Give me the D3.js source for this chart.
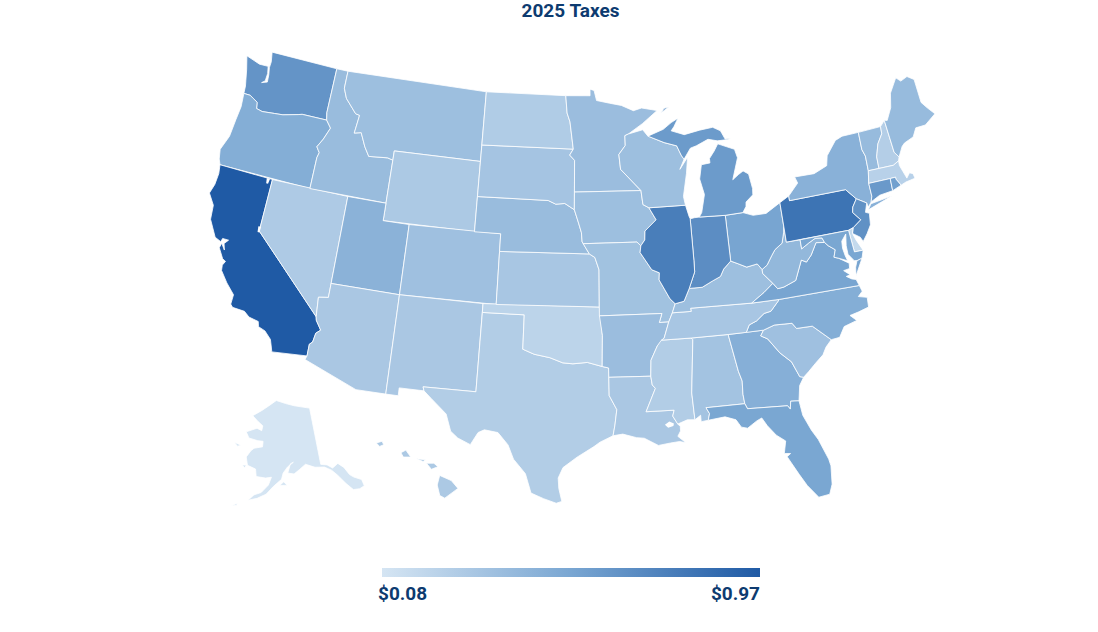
<!DOCTYPE html>
<html>
<head>
<meta charset="utf-8">
<script src="https://cdn.jsdelivr.net/npm/d3@7"></script>
<style>
  body { margin: 0; background: #fff; }
  text { font-family: Roboto, sans-serif; font-weight: 700; fill: #0d3b70; }
</style>
</head>
<body>
<script>
const chartTitle = "2025 Taxes";
const legendLabels = ["$0.08", "$0.97"];
const valueRange = [0.08, 0.525, 0.97];
const colorRange = ["#d5e5f3", "#79a6d2", "#1f5aa5"];

const stateIds = ["WA","OR","CA","NV","ID","MT","WY","UT","CO","AZ","NM","TX","OK","KS","NE","SD","ND","MN","IA","MO","AR","LA","MS","AL","GA","FL","SC","NC","TN","KY","VA","WV","OH","IN","IL","WI","MI","PA","NY","VT","NH","ME","MA","CT","RI","NJ","DE","MD","AK","HI"];
const stateValues = [0.63,0.47,0.97,0.27,0.37,0.35,0.28,0.44,0.34,0.29,0.29,0.25,0.20,0.30,0.37,0.31,0.26,0.36,0.35,0.33,0.36,0.29,0.25,0.32,0.46,0.52,0.34,0.47,0.30,0.35,0.53,0.40,0.53,0.67,0.76,0.35,0.59,0.82,0.45,0.38,0.24,0.38,0.22,0.60,0.56,0.65,0.16,0.52,0.08,0.28];

// simplified outlines, lon/lat, one list of rings per state
const stateOutlines = {
  WA: [[[-124.73,48.38],[-123.5,48.13],[-122.75,48.15],[-122.62,47.75],[-122.65,47.3],[-122.9,47.15],[-122.45,47.27],[-122.5,47.7],[-122.62,48.1],[-122.6,48.45],[-122.76,49],[-117.03,49],[-117.04,46.42],[-116.92,46],[-118.98,46],[-119.3,45.93],[-120.5,45.7],[-121.2,45.65],[-122.2,45.57],[-122.7,45.65],[-122.8,46],[-123.2,46.15],[-123.5,46.27],[-124.05,46.27],[-124.1,46.7],[-124.2,47],[-124.4,47.6]]],
  OR: [[[-124.05,46.27],[-123.5,46.27],[-123.2,46.15],[-122.8,46],[-122.7,45.65],[-122.2,45.57],[-121.2,45.65],[-120.5,45.7],[-119.3,45.93],[-118.98,46],[-116.92,46],[-116.47,45.6],[-116.85,44.9],[-117.22,44.4],[-117.03,44.2],[-116.93,44.1],[-117.03,43.8],[-117.03,42],[-124.21,42],[-124.4,42.3],[-124.55,42.84],[-124.15,43.7],[-124.05,44.7],[-123.95,45.5]]],
  CA: [[[-124.21,42],[-120,42],[-120,39],[-114.63,35],[-114.57,34.8],[-114.14,34.3],[-114.43,34.08],[-114.53,33.55],[-114.72,33.4],[-114.72,32.72],[-117.12,32.53],[-117.25,32.85],[-117.4,33.2],[-117.9,33.6],[-118.4,33.75],[-118.5,34.03],[-119.2,34.15],[-119.6,34.4],[-120.47,34.45],[-120.65,34.6],[-120.63,35.15],[-121.3,35.7],[-121.9,36.3],[-121.95,36.6],[-121.8,36.85],[-122.05,36.95],[-122.5,37.5],[-122.42,37.78],[-122.1,37.45],[-122.25,37.8],[-122,38.05],[-122.45,38.05],[-122.52,37.85],[-123,38],[-123.7,38.9],[-123.8,39.7],[-124.35,40.3],[-124.15,40.85],[-124.1,41.5]]],
  NV: [[[-120,42],[-114.04,42],[-114.04,36.2],[-114.74,36.1],[-114.63,35],[-120,39]]],
  ID: [[[-117.03,49],[-116.05,49],[-116.05,48],[-115.7,47.45],[-114.7,46.7],[-114.35,46.65],[-114.5,45.6],[-113.95,45.7],[-113.45,44.95],[-113,44.45],[-111.5,44.55],[-111.05,44.47],[-111.05,42],[-117.03,42],[-117.03,43.8],[-116.93,44.1],[-117.03,44.2],[-117.22,44.4],[-116.85,44.9],[-116.47,45.6],[-116.92,46],[-117.04,46.42]]],
  MT: [[[-116.05,49],[-104.05,49],[-104.05,45],[-111.05,45],[-111.05,44.47],[-111.5,44.55],[-113,44.45],[-113.45,44.95],[-113.95,45.7],[-114.5,45.6],[-114.35,46.65],[-114.7,46.7],[-115.7,47.45],[-116.05,48]]],
  WY: [[[-111.05,45],[-104.05,45],[-104.05,41],[-111.05,41]]],
  UT: [[[-114.04,42],[-111.05,42],[-111.05,41],[-109.05,41],[-109.05,37],[-114.04,37]]],
  CO: [[[-109.05,41],[-102.05,41],[-102.05,37],[-109.05,37]]],
  AZ: [[[-114.04,37],[-109.05,37],[-109.05,31.33],[-111.07,31.33],[-114.81,32.5],[-114.72,32.72],[-114.72,33.4],[-114.53,33.55],[-114.43,34.08],[-114.14,34.3],[-114.57,34.8],[-114.63,35],[-114.74,36.1],[-114.04,36.2]]],
  NM: [[[-109.05,37],[-103,37],[-103.04,32],[-106.62,32],[-106.53,31.78],[-108.21,31.78],[-108.21,31.33],[-109.05,31.33]]],
  TX: [[[-106.62,32],[-103.04,32],[-103,36.5],[-100,36.5],[-100,34.56],[-99.2,34.3],[-98.1,34.13],[-97.2,33.85],[-96.5,33.8],[-95.5,33.88],[-94.48,33.64],[-94.04,33.55],[-94.04,33.02],[-94.04,31.99],[-93.55,31.18],[-93.7,30.3],[-93.84,29.7],[-94.7,29.35],[-95.1,29.1],[-96.2,28.5],[-97.1,27.9],[-97.4,27.3],[-97.35,26.7],[-97.15,25.96],[-97.5,25.85],[-98.3,26.1],[-99.1,26.4],[-99.5,27.5],[-100.3,28.3],[-100.7,29.1],[-101.4,29.77],[-102.3,29.88],[-102.7,29.7],[-103.15,28.98],[-104,29.3],[-104.5,29.65],[-104.9,30.6],[-106,31.4],[-106.53,31.78]]],
  OK: [[[-103,37],[-94.62,37],[-94.43,35.4],[-94.48,33.64],[-95.5,33.88],[-96.5,33.8],[-97.2,33.85],[-98.1,34.13],[-99.2,34.3],[-100,34.56],[-100,36.5],[-103,36.5]]],
  KS: [[[-102.05,40],[-95.31,40],[-94.9,39.8],[-94.6,39.1],[-94.62,37],[-102.05,37]]],
  NE: [[[-104.05,43],[-98.5,43],[-97.9,42.8],[-97.2,42.85],[-96.45,42.5],[-96.1,41.7],[-95.9,41.2],[-95.85,40.7],[-95.31,40],[-102.05,40],[-102.05,41],[-104.05,41]]],
  SD: [[[-104.05,45.94],[-96.56,45.94],[-96.85,45.6],[-96.45,45.3],[-96.45,43.5],[-96.45,42.5],[-97.2,42.85],[-97.9,42.8],[-98.5,43],[-104.05,43]]],
  ND: [[[-104.05,49],[-97.23,49],[-97.1,48],[-96.85,47.5],[-96.56,45.94],[-104.05,45.94]]],
  MN: [[[-97.23,49],[-95.15,49],[-95.15,49.38],[-94.8,49.3],[-94.6,48.72],[-93.5,48.55],[-92.5,48.4],[-91.5,48.07],[-90.8,48.2],[-89.5,48],[-90.8,47.3],[-92,46.75],[-92.3,46.66],[-92.3,46.1],[-92.85,45.6],[-92.75,44.75],[-91.2,43.5],[-96.45,43.5],[-96.45,45.3],[-96.85,45.6],[-96.56,45.94],[-96.85,47.5],[-97.1,48]]],
  IA: [[[-96.45,43.5],[-91.2,43.5],[-91.1,42.7],[-90.65,42.5],[-90.15,41.8],[-91.05,41.2],[-91.1,40.7],[-91.42,40.38],[-91.7,40.6],[-95.77,40.58],[-95.85,40.7],[-95.9,41.2],[-96.1,41.7],[-96.45,42.5]]],
  MO: [[[-95.77,40.58],[-91.7,40.6],[-91.42,40.38],[-91.5,40],[-90.7,39],[-90.15,38.8],[-90.2,38.4],[-89.5,37.3],[-89.15,37],[-89.4,36.5],[-89.7,36],[-90.37,36],[-90.15,36.5],[-94.62,36.5],[-94.62,37],[-94.6,39.1],[-94.9,39.8],[-95.31,40]]],
  AR: [[[-94.62,36.5],[-90.15,36.5],[-90.37,36],[-89.7,36],[-90.1,35.1],[-90.6,34.7],[-91.1,33.9],[-91.17,33],[-94.04,33.02],[-94.04,33.55],[-94.48,33.64],[-94.43,35.4]]],
  LA: [[[-94.04,33.02],[-91.17,33],[-91.1,32.5],[-90.9,32.3],[-91.6,31],[-89.73,31],[-89.85,30.67],[-89.55,30.2],[-89.4,30.05],[-89.4,29.8],[-89.6,29.5],[-89.1,29.1],[-89.5,29.2],[-90.1,29.15],[-90.9,29.05],[-91.8,29.5],[-92.3,29.55],[-93.2,29.78],[-93.84,29.7],[-93.7,30.3],[-93.55,31.18],[-94.04,31.99]]],
  MS: [[[-91.17,33],[-91.1,33.9],[-90.6,34.7],[-90.3,35],[-88.2,35],[-88.1,34.9],[-88.47,31.9],[-88.4,30.37],[-88.9,30.4],[-89.55,30.2],[-89.85,30.67],[-89.73,31],[-91.6,31],[-90.9,32.3],[-91.1,32.5]]],
  AL: [[[-88.2,35],[-85.6,35],[-85.18,32.87],[-85,32.3],[-85.05,31.55],[-85,31],[-87.6,31],[-87.4,30.65],[-87.52,30.28],[-88,30.23],[-88,30.6],[-88.4,30.37],[-88.47,31.9],[-88.1,34.9]]],
  GA: [[[-85.6,35],[-83.1,35],[-83.35,34.7],[-82.9,34.48],[-82.2,33.6],[-81.5,33],[-81.1,32.1],[-80.85,32.03],[-81.2,31.6],[-81.4,30.75],[-81.95,30.8],[-82.05,30.36],[-82.2,30.57],[-84.86,30.7],[-85,31],[-85.05,31.55],[-85,32.3],[-85.18,32.87]]],
  FL: [[[-87.6,31],[-85,31],[-84.86,30.7],[-82.2,30.57],[-82.05,30.36],[-81.95,30.8],[-81.4,30.75],[-81.3,29.9],[-80.9,29],[-80.55,28.4],[-80.1,27.2],[-80.03,26.8],[-80.15,25.75],[-80.4,25.2],[-81.1,25.13],[-81.7,25.9],[-82.1,26.6],[-82.7,27.7],[-82.45,27.85],[-82.85,27.9],[-82.65,28.6],[-83.2,29],[-83.7,29.6],[-84,30.08],[-84.35,29.95],[-85,29.6],[-85.4,29.7],[-85.7,30.15],[-86.4,30.38],[-87.52,30.28],[-87.4,30.65]]],
  SC: [[[-83.1,35],[-82.3,35.2],[-81.05,35.15],[-80.8,34.82],[-79.68,34.8],[-78.55,33.86],[-79,33.5],[-79.3,33.1],[-79.9,32.7],[-80.45,32.3],[-80.85,32.03],[-81.1,32.1],[-81.5,33],[-82.2,33.6],[-82.9,34.48],[-83.35,34.7]]],
  NC: [[[-84.32,35],[-83.1,35],[-82.3,35.2],[-81.05,35.15],[-80.8,34.82],[-79.68,34.8],[-78.55,33.86],[-77.95,33.9],[-77.5,34.45],[-76.55,34.65],[-76.95,35],[-76.3,35.1],[-75.55,35.25],[-75.5,35.8],[-76.1,35.95],[-75.75,36.2],[-75.87,36.55],[-81.68,36.59],[-82.4,36],[-82.9,35.93],[-83.5,35.57],[-84.05,35.4]]],
  TN: [[[-89.7,36],[-89.4,36.5],[-88.05,36.5],[-88.07,36.68],[-83.68,36.6],[-81.68,36.59],[-82.4,36],[-82.9,35.93],[-83.5,35.57],[-84.05,35.4],[-84.32,35],[-85.6,35],[-88.2,35],[-90.3,35],[-90.1,35.1]]],
  KY: [[[-89.4,36.5],[-89.15,37],[-88.5,37.1],[-88.05,37.8],[-87.1,37.8],[-86.3,38.1],[-85.7,38.3],[-85.4,38.7],[-84.82,39.1],[-84.3,38.9],[-83.7,38.65],[-82.9,38.75],[-82.6,38.4],[-82.6,38.17],[-81.97,37.54],[-82.7,37.1],[-83.68,36.6],[-88.07,36.68],[-88.05,36.5]]],
  VA: [[[-83.68,36.6],[-81.68,36.59],[-75.87,36.55],[-76,36.92],[-76.3,37],[-76.65,37.2],[-76.35,37.25],[-76.75,37.55],[-76.3,37.6],[-76.25,37.9],[-76.95,38.3],[-77.25,38.4],[-77.05,38.8],[-77.5,39.1],[-77.72,39.32],[-78.35,39.4],[-78.87,38.76],[-79.3,38.42],[-79.65,38.58],[-80.3,37.5],[-81.22,37.24],[-81.68,37.2],[-81.97,37.54],[-82.7,37.1]],[[-75.95,37.12],[-75.25,38.03],[-75.65,37.95],[-75.85,37.6]]],
  WV: [[[-82.6,38.17],[-82.6,38.4],[-82.2,38.6],[-81.75,39.1],[-81.45,39.4],[-80.85,39.7],[-80.6,40.3],[-80.52,40.64],[-80.52,39.72],[-79.48,39.72],[-79.48,39.2],[-78.9,39.45],[-78.35,39.65],[-77.85,39.6],[-77.72,39.32],[-78.35,39.4],[-78.87,38.76],[-79.3,38.42],[-79.65,38.58],[-80.3,37.5],[-81.22,37.24],[-81.68,37.2],[-81.97,37.54]]],
  OH: [[[-84.82,41.7],[-83.45,41.73],[-82.7,41.5],[-81.7,41.5],[-80.52,41.98],[-80.52,40.64],[-80.6,40.3],[-80.85,39.7],[-81.45,39.4],[-81.75,39.1],[-82.2,38.6],[-82.6,38.4],[-82.9,38.75],[-83.7,38.65],[-84.3,38.9],[-84.82,39.1]]],
  IN: [[[-87.53,41.71],[-87.2,41.75],[-86.82,41.76],[-84.82,41.7],[-84.82,39.1],[-85.4,38.7],[-85.7,38.3],[-86.3,38.1],[-87.1,37.8],[-88.05,37.8],[-87.55,38.7],[-87.53,39.35]]],
  IL: [[[-90.65,42.5],[-87.8,42.5],[-87.6,41.85],[-87.53,41.71],[-87.53,39.35],[-87.55,38.7],[-88.05,37.8],[-88.5,37.1],[-89.15,37],[-89.5,37.3],[-90.2,38.4],[-90.15,38.8],[-90.7,39],[-91.5,40],[-91.42,40.38],[-91.1,40.7],[-91.05,41.2],[-90.15,41.8]]],
  WI: [[[-92.3,46.66],[-92,46.75],[-90.8,46.95],[-90.4,46.57],[-89.1,46.14],[-88.1,45.9],[-87.8,45.35],[-87.6,45.1],[-88,44.55],[-87.3,45.2],[-87.5,44.3],[-87.9,43],[-87.8,42.5],[-90.65,42.5],[-91.1,42.7],[-91.2,43.5],[-92.75,44.75],[-92.85,45.6],[-92.3,46.1]]],
  MI: [[[-86.82,41.76],[-84.82,41.7],[-83.45,41.73],[-83.15,42.05],[-83.1,42.3],[-82.5,42.65],[-82.45,43],[-82.6,43.85],[-83,44.07],[-83.4,43.9],[-83.9,43.65],[-83.3,44.85],[-83.45,45.35],[-84.75,45.78],[-85.1,45.4],[-85.55,45],[-85.55,44.75],[-86.25,44.7],[-86.5,43.9],[-86.25,43],[-86.6,42]],[[-90.4,46.57],[-89.1,46.9],[-88.4,47.25],[-87.8,47.47],[-88.2,47],[-88.45,46.78],[-87.4,46.5],[-86.1,46.67],[-85,46.75],[-84.4,46.5],[-84.1,46],[-83.6,46],[-83.9,45.95],[-84.75,45.95],[-85.5,46.1],[-86.5,45.8],[-87,45.7],[-87.6,45.1],[-87.8,45.35],[-88.1,45.9],[-89.1,46.14]],[[-89.2,47.85],[-88.5,48.15],[-88.9,48.1]]],
  PA: [[[-80.52,41.98],[-79.76,42.27],[-79.76,42],[-75.35,42],[-74.7,41.36],[-75.1,40.95],[-75.2,40.65],[-74.72,40.15],[-75.42,39.8],[-75.79,39.72],[-80.52,39.72]]],
  NY: [[[-79.76,42.27],[-78.9,42.9],[-79.05,43.27],[-77.5,43.25],[-76.4,43.55],[-76.2,44.1],[-75.3,44.85],[-74.7,45],[-73.35,45],[-73.4,44],[-73.25,43.6],[-73.3,42.75],[-73.5,42.05],[-73.5,41.3],[-73.65,41],[-73.95,40.75],[-74,41],[-74.7,41.36],[-75.35,42],[-79.76,42]],[[-74,40.6],[-72,41.05],[-73.7,40.9]]],
  VT: [[[-73.35,45],[-71.5,45.01],[-71.55,44.6],[-72.05,44.1],[-72.4,43.4],[-72.45,42.73],[-73.3,42.75],[-73.25,43.6],[-73.4,44]]],
  NH: [[[-71.5,45.01],[-71.08,45.3],[-70.98,43.4],[-70.7,43.07],[-70.82,42.87],[-71.3,42.7],[-72.45,42.73],[-72.4,43.4],[-72.05,44.1],[-71.55,44.6]]],
  ME: [[[-71.08,45.3],[-70.85,45.25],[-70.3,45.9],[-70,46.7],[-69.23,47.46],[-68.9,47.2],[-68.3,47.35],[-67.8,47.07],[-67.8,45.7],[-67.45,45.3],[-67,44.85],[-68,44.4],[-68.8,44.4],[-69.2,43.95],[-70,43.75],[-70.25,43.6],[-70.7,43.07],[-70.98,43.4]]],
  MA: [[[-73.5,42.05],[-71.8,42.02],[-71.38,42.02],[-71.38,41.9],[-71.12,41.5],[-70.7,41.6],[-69.95,41.67],[-70,41.95],[-70.25,42.05],[-70.55,41.8],[-70.7,42.2],[-70.85,42.6],[-70.82,42.87],[-71.3,42.7],[-72.45,42.73],[-73.3,42.75]]],
  CT: [[[-73.5,42.05],[-71.8,42.02],[-71.85,41.32],[-72.9,41.25],[-73.65,41],[-73.5,41.3]]],
  RI: [[[-71.8,42.02],[-71.38,42.02],[-71.38,41.9],[-71.12,41.5],[-71.85,41.32]]],
  NJ: [[[-74.7,41.36],[-74,41],[-74.25,40.5],[-73.98,40.4],[-74.1,39.75],[-74.5,39.3],[-74.9,38.93],[-75.05,39.2],[-75.55,39.5],[-75.42,39.8],[-74.72,40.15],[-75.2,40.65],[-75.1,40.95]]],
  DE: [[[-75.79,39.72],[-75.42,39.8],[-75.55,39.5],[-75.4,39.1],[-75.05,38.45],[-75.7,38.46]]],
  MD: [[[-79.48,39.72],[-75.79,39.72],[-75.7,38.46],[-75.05,38.45],[-75.25,38.03],[-75.65,37.95],[-75.85,37.98],[-76.2,38.4],[-76.2,38.9],[-76.05,39.55],[-76.45,39.2],[-76.5,38.8],[-76.42,38.35],[-76.32,38.05],[-76.95,38.3],[-77.25,38.4],[-77.05,38.8],[-77.5,39.1],[-77.72,39.32],[-77.85,39.6],[-78.35,39.65],[-78.9,39.45],[-79.48,39.2]]],
  AK: [[[-141,69.65],[-141,60.3],[-139,60],[-137.5,59.3],[-135.5,59.8],[-134,58.9],[-133,57.5],[-132,56.9],[-130.1,56.1],[-130,55],[-131.5,54.8],[-133.3,55],[-134.8,56.3],[-136.6,58],[-138,59],[-140,59.75],[-143,60],[-146,60.7],[-148,60],[-150,59.3],[-152,59.5],[-151,61],[-150,61.2],[-152,60.5],[-153.5,59.5],[-154,58.5],[-156.5,57.3],[-158.5,56],[-161,55.2],[-163.5,54.7],[-162,55.7],[-160,56.2],[-158,57.5],[-157.2,58.8],[-159,58.6],[-162,58.7],[-162.5,59.9],[-165.3,60.3],[-166.2,61.6],[-165,62.7],[-164,63.2],[-161,63.6],[-161,64.5],[-163,64.5],[-166.5,64.7],[-168,65.6],[-164,66.5],[-162,66.2],[-161.8,67],[-164,67.6],[-166.7,68.4],[-163,69.5],[-160,70.4],[-156.6,71.35],[-152,70.85],[-148,70.4],[-144,70]],[[-154.6,57.5],[-152.3,57.5],[-153.3,58.1]],[[-167,60.2],[-165.7,60.3],[-166,59.8]],[[-171.5,63.5],[-168.8,63.3],[-170,63]],[[-167.8,53.3],[-166.2,54],[-166.4,53.6]]],
  HI: [[[-155.9,20.25],[-155.2,19.95],[-154.8,19.5],[-155.6,18.95],[-155.9,19.1],[-156.05,19.7]],[[-156.7,20.95],[-156.25,20.95],[-156,20.75],[-156.4,20.6]],[[-157.3,21.2],[-156.75,21.15],[-156.9,21.05]],[[-158.25,21.55],[-157.95,21.7],[-157.65,21.3],[-158.1,21.3]],[[-159.75,22.1],[-159.4,22.2],[-159.3,22],[-159.55,21.9]]]
};

// lakes that show up as white holes on the map
const lakeOutlines = [
  [[-120.45,42],[-120.2,42],[-120.25,41.7],[-120.4,41.7]],
  [[-120.15,39.25],[-119.95,39.25],[-119.95,38.92],[-120.1,38.92]],
  [[-90.4,30.2],[-90.1,30.37],[-89.8,30.25],[-89.85,30.1],[-90.2,30.03]]
];

// the reference sits its two insets a little off the standard AlbersUsa spot
const insetShift = {AK: [12, 0], HI: [6, -9]};

const width = 1098, height = 632;

const svg = d3.select("body").append("svg")
    .attr("width", width)
    .attr("height", height);

const color = d3.scaleLinear()
    .domain(valueRange)
    .range(colorRange);

// d3.geo wants rings wound clockwise, flip the ones that came out inside-out
function toPolygon(ring) {
    const closed = ring.concat([ring[0]]);
    const area = d3.geoArea({type: "Polygon", coordinates: [closed]});
    return [area > 2 * Math.PI ? closed.slice().reverse() : closed];
}

const features = stateIds.map((id, i) => ({
    type: "Feature",
    id: id,
    properties: {value: stateValues[i]},
    geometry: {type: "MultiPolygon", coordinates: stateOutlines[id].map(toPolygon)}
}));

const projection = d3.geoAlbersUsa()
    .scale(1006)
    .translate([572, 277]);
const path = d3.geoPath(projection);

svg.append("g").selectAll("path")
    .data(features)
    .join("path")
    .attr("d", path)
    .attr("fill", d => color(d.properties.value))
    .attr("stroke", "#fff")
    .attr("stroke-width", 0.8)
    .attr("stroke-linejoin", "round")
    .attr("transform", d => insetShift[d.id] ? `translate(${insetShift[d.id]})` : null);

svg.append("g").selectAll("path")
    .data(lakeOutlines)
    .join("path")
    .attr("d", d => path({type: "Polygon", coordinates: toPolygon(d)}))
    .attr("fill", "#fff");

svg.append("text")
    .attr("x", 570.5)
    .attr("y", 17)
    .attr("text-anchor", "middle")
    .attr("font-size", 19)
    .text(chartTitle);

// legend
const legendX = d3.scaleLinear().domain([valueRange[0], valueRange[2]]).range([382, 760]);
const grad = svg.append("defs").append("linearGradient").attr("id", "legend-grad");
grad.selectAll("stop")
    .data(valueRange)
    .join("stop")
    .attr("offset", d => (legendX(d) - 382) / 378)
    .attr("stop-color", d => color(d));

svg.append("rect")
    .attr("x", legendX(valueRange[0]))
    .attr("y", 568)
    .attr("width", legendX(valueRange[2]) - legendX(valueRange[0]))
    .attr("height", 9)
    .attr("fill", "url(#legend-grad)");

svg.append("text")
    .attr("x", 378)
    .attr("y", 600)
    .attr("font-size", 19)
    .text(legendLabels[0]);

svg.append("text")
    .attr("x", 760)
    .attr("y", 600)
    .attr("text-anchor", "end")
    .attr("font-size", 19)
    .text(legendLabels[1]);
</script>
</body>
</html>
